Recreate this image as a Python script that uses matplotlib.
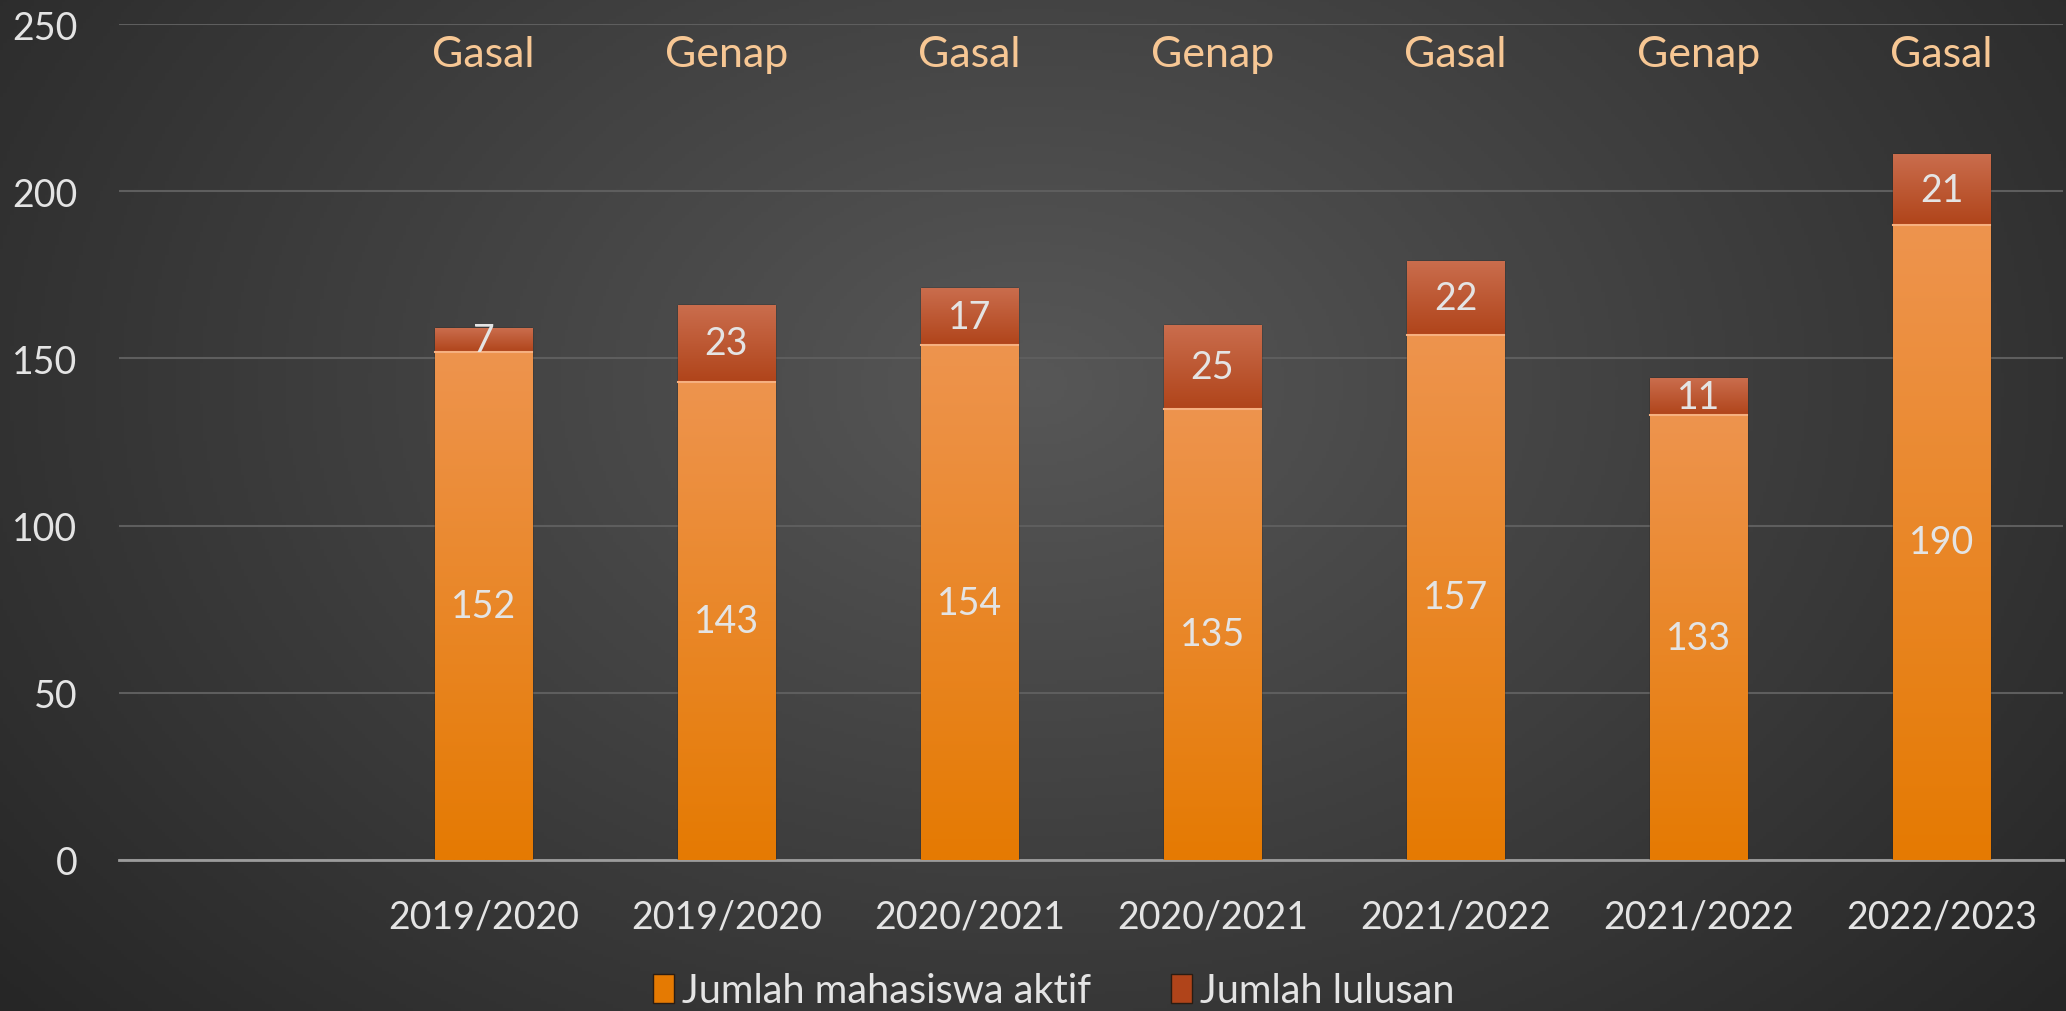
import numpy as np
import matplotlib
matplotlib.use('Agg')
import matplotlib.pyplot as plt
from matplotlib.colors import LinearSegmentedColormap
from matplotlib.patches import Patch

plt.rcParams['font.family'] = ['Lato', 'DejaVu Sans']

# data (slot pertama kosong seperti di grafik asli)
tahun = ['', '2019/2020', '2019/2020', '2020/2021', '2020/2021',
         '2021/2022', '2021/2022', '2022/2023']
semester = ['', 'Gasal', 'Genap', 'Gasal', 'Genap', 'Gasal', 'Genap', 'Gasal']
aktif = [np.nan, 152, 143, 154, 135, 157, 133, 190]
lulusan = [np.nan, 7, 23, 17, 25, 22, 11, 21]

teks = '#E4E4E4'
oranye_atas, oranye_bawah = '#EE944E', '#E57A02'
merah_atas, merah_bawah = '#CA6D4D', '#B0441A'

fig = plt.figure(figsize=(20.66, 10.12), dpi=100)

# background radial
bg = fig.add_axes([0, 0, 1, 1], zorder=-10)
yy, xx = np.mgrid[0:1:300j, 0:1:600j]
r = np.sqrt(((xx - 0.5) * 1.6) ** 2 + ((yy - 0.62) * 1.1) ** 2)
r = np.clip(r / r.max(), 0, 1)
cmap_bg = LinearSegmentedColormap.from_list('bg', ['#575757', '#262626'])
bg.imshow(r, cmap=cmap_bg, aspect='auto', origin='lower', extent=[0, 1, 0, 1])
bg.axis('off')

ax = fig.add_axes([119 / 2066, (1012 - 861) / 1012, 1944 / 2066, 836 / 1012])
ax.set_facecolor('none')

x = np.arange(len(tahun))
lebar = 0.4
b1 = ax.bar(x, aktif, width=lebar, color=oranye_bawah, edgecolor='#2a1c12', linewidth=1, zorder=3)
b2 = ax.bar(x, lulusan, width=lebar, bottom=aktif, color=merah_bawah, edgecolor='#2a1c12', linewidth=1, zorder=3)

grad = np.linspace(0, 1, 256).reshape(-1, 1)
cm1 = LinearSegmentedColormap.from_list('c1', [oranye_bawah, oranye_atas])
cm2 = LinearSegmentedColormap.from_list('c2', [merah_bawah, merah_atas])
for cont, cm in [(b1, cm1), (b2, cm2)]:
    for rect in cont:
        if np.isnan(rect.get_height()):
            continue
        x0, y0 = rect.get_x(), rect.get_y()
        im = ax.imshow(grad, cmap=cm, aspect='auto', origin='lower',
                       extent=[x0, x0 + rect.get_width(), y0, y0 + rect.get_height()], zorder=3.5)
        im.set_clip_path(rect)

# garis pemisah tipis
for i in range(len(x)):
    if not np.isnan(aktif[i]):
        ax.plot([x[i] - lebar / 2, x[i] + lebar / 2], [aktif[i], aktif[i]], color='#F6B080', lw=1.5, zorder=4)

# label nilai
for i in range(len(x)):
    if np.isnan(aktif[i]):
        continue
    ax.text(x[i], aktif[i] / 2, str(aktif[i]), ha='center', va='center', color=teks, fontsize=27, zorder=5)
    ax.text(x[i], aktif[i] + lulusan[i] / 2, str(lulusan[i]), ha='center', va='center', color=teks, fontsize=27, zorder=5)
    ax.text(x[i], 241, semester[i], ha='center', va='center', color='#F7C794', fontsize=31, zorder=5)

ax.set_xlim(-0.5, len(x) - 0.5)
ax.set_ylim(0, 250)
ax.set_yticks(range(0, 251, 50))
ax.set_xticks(x)
ax.set_xticklabels(tahun)
ax.tick_params(axis='both', length=0, colors=teks, labelsize=27)
ax.tick_params(axis='y', pad=30)
ax.tick_params(axis='x', pad=28)
ax.yaxis.grid(True, color='#5e5e5e', linewidth=1.5, zorder=0)
ax.set_axisbelow(True)
for s in ['top', 'right', 'left']:
    ax.spines[s].set_visible(False)
ax.spines['bottom'].set_color('#9c9c9c')
ax.spines['bottom'].set_linewidth(2)

handles = [Patch(facecolor=oranye_bawah, edgecolor='#2a1c12'),
           Patch(facecolor=merah_bawah, edgecolor='#2a1c12')]
fig.legend(handles, ['Jumlah mahasiswa aktif', 'Jumlah lulusan'], loc='center',
           bbox_to_anchor=(0.51, 1 - 992 / 1012), ncol=2, frameon=False,
           fontsize=28.5, labelcolor=teks, handlelength=0.55, handleheight=0.75,
           handletextpad=0.2, columnspacing=2.0)

fig.savefig('out.png', dpi=100)
